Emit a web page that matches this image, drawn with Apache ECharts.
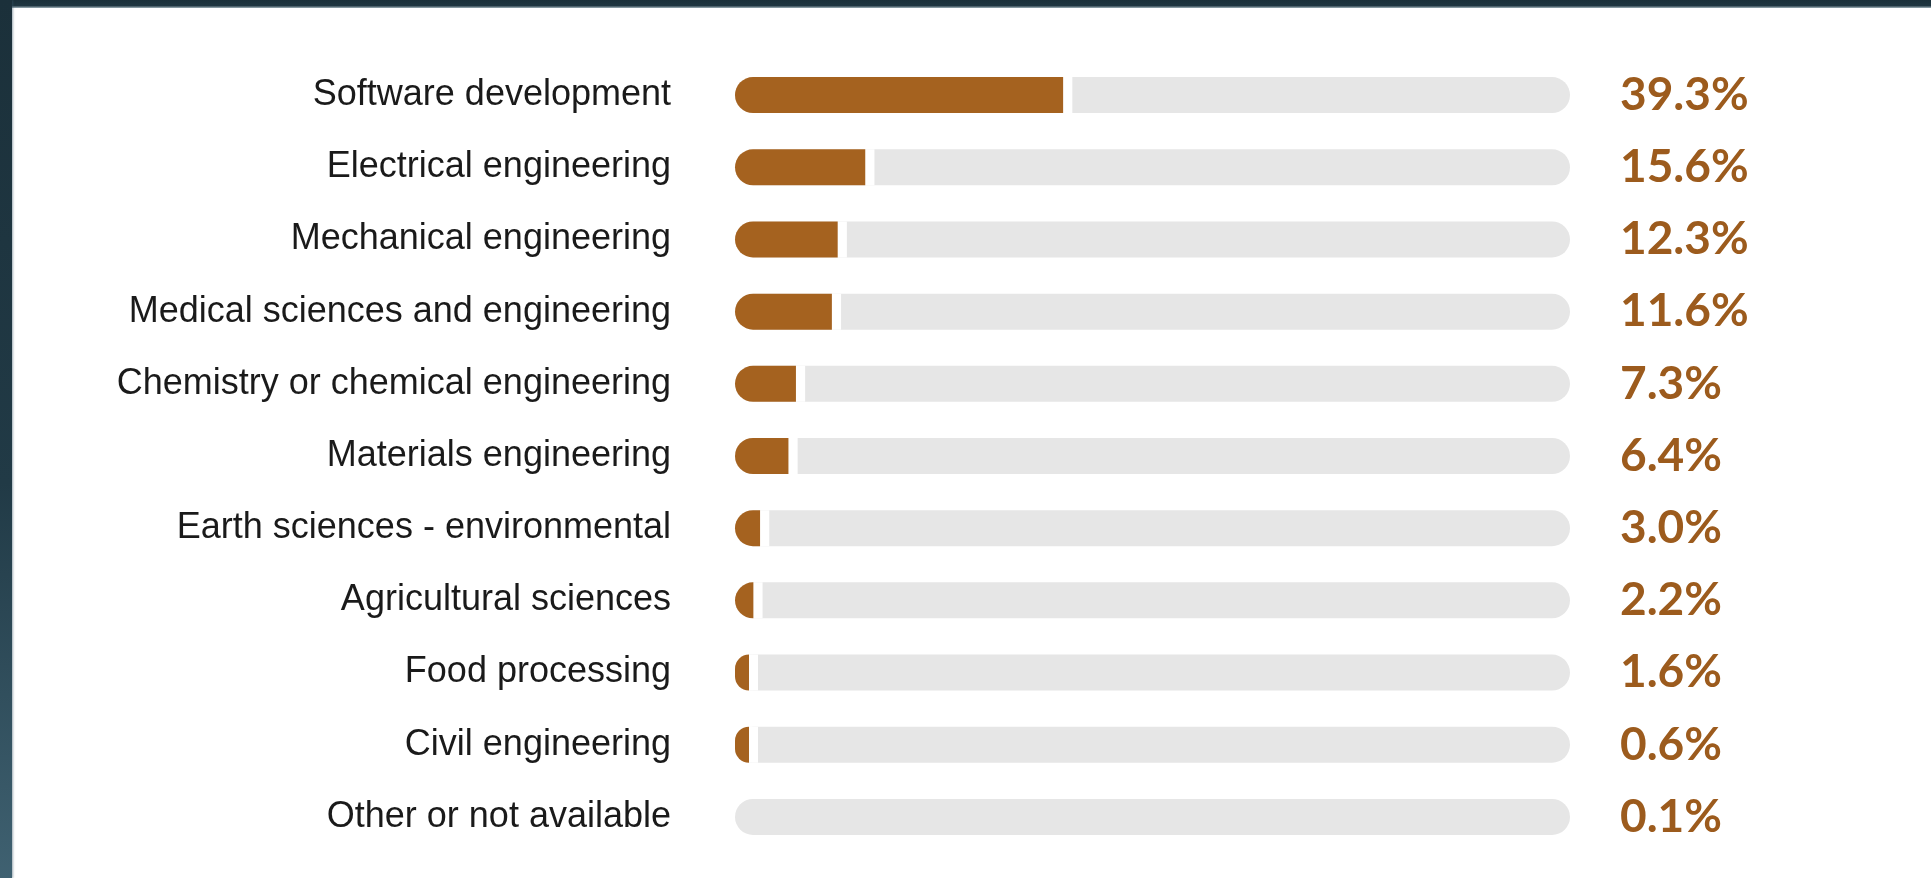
<!DOCTYPE html>
<html>
<head>
<meta charset="utf-8">
<script src="https://cdn.jsdelivr.net/npm/echarts@6/dist/echarts.min.js"></script>
<style>
    html, body { margin: 0; padding: 0; background: #fff; }
    body {
        width: 100%;
        height: 878px;
        overflow: hidden;
        position: relative;
    }
    .edge-top {
        position: absolute;
        left: 0; top: 0; right: 0;
        height: 8px;
        background: linear-gradient(180deg, #1b303a 0%, #1f3641 70%, #9fb0b8 100%);
    }
    .edge-left {
        position: absolute;
        left: 0; top: 0; bottom: 0;
        width: 12px;
        background: linear-gradient(180deg, #1b303a 0%, #213a46 55%, #3f6171 100%);
        box-shadow: 1px 0 2px rgba(60, 90, 105, 0.5);
    }
    #bar_show {
        position: absolute;
        left: 12px;
        top: 8px;
        width: 1919px;
        height: 870px;
    }
</style>
</head>
<body>
<div class="edge-top"></div>
<div class="edge-left"></div>
<div id="bar_show"></div>
<script>
// 分类名称 / 占比(%)
var categories = [
    'Software development',
    'Electrical engineering',
    'Mechanical engineering',
    'Medical sciences and engineering',
    'Chemistry or chemical engineering',
    'Materials engineering',
    'Earth sciences - environmental',
    'Agricultural sciences',
    'Food processing',
    'Civil engineering',
    'Other or not available'
];
var values = [39.3, 15.6, 12.3, 11.6, 7.3, 6.4, 3.0, 2.2, 1.6, 0.6, 0.1];
var trackMax = 100;

var GAP = 1.1; // 橙色条和灰色底之间的白色缝隙
var HIDE_BELOW = 0.5; // 太小的值不画橙色

var oBar = echarts.init(document.getElementById('bar_show'));

var trackData = categories.map(function () { return trackMax; });
var gapData = values.map(function (v) {
    return { value: v + GAP, itemStyle: v < HIDE_BELOW ? { opacity: 0 } : {} };
});
var fillData = values.map(function (v) {
    return { value: v, itemStyle: v < HIDE_BELOW ? { opacity: 0 } : {} };
});

var oBaropt = {
    animation: false,
    grid: {
        left: 723,
        right: 361,
        top: 51,
        bottom: 25
    },
    xAxis: {
        type: 'value',
        min: 0,
        max: trackMax,
        show: false
    },
    yAxis: {
        type: 'category',
        inverse: true,
        data: categories,
        axisLine: { show: false },
        axisTick: { show: false },
        splitLine: { show: false },
        axisLabel: {
            margin: 64,
            fontSize: 36,
            lineHeight: 40,
            padding: [11, 0, 0, 0],
            fontFamily: 'Arial, "Liberation Sans", sans-serif',
            color: '#1a1a1a'
        }
    },
    series: [
        {
            name: 'track',
            type: 'bar',
            barWidth: 36,
            barGap: '-100%',
            silent: true,
            itemStyle: {
                color: '#e6e6e6',
                borderRadius: 18
            },
            label: {
                show: true,
                position: 'right',
                distance: 50,
                fontFamily: 'Lato, "Open Sans", sans-serif',
                fontWeight: 'bold',
                fontSize: 46,
                color: '#9c5b1d',
                formatter: function (p) {
                    return values[p.dataIndex].toFixed(1) + '%';
                }
            },
            data: trackData
        },
        {
            name: 'gap',
            type: 'bar',
            barWidth: 36,
            barGap: '-100%',
            barMinHeight: 23,
            silent: true,
            itemStyle: {
                color: '#ffffff',
                borderRadius: [18, 0, 0, 18]
            },
            data: gapData
        },
        {
            name: '占比',
            type: 'bar',
            barWidth: 36,
            barGap: '-100%',
            barMinHeight: 14,
            itemStyle: {
                color: '#a5621f',
                borderRadius: [18, 0, 0, 18]
            },
            data: fillData
        }
    ]
};

oBar.setOption(oBaropt);
</script>
</body>
</html>
